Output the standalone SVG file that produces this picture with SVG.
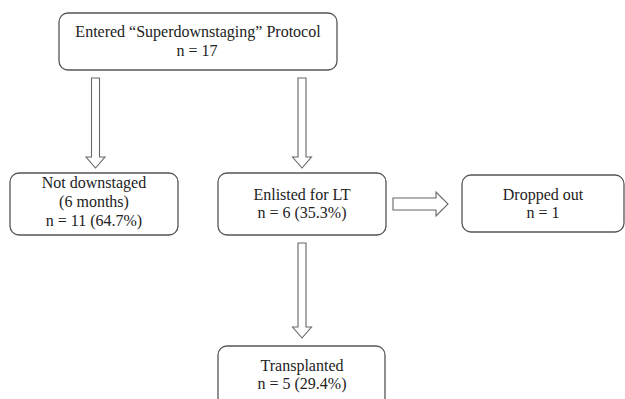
<svg xmlns="http://www.w3.org/2000/svg" width="625" height="399" viewBox="0 0 625 399">
<style>
.box{fill:#fff;stroke:#555;stroke-width:1.3}
.arr{fill:#fff;stroke:#666;stroke-width:1.1;stroke-linejoin:miter}
text{font-family:"Liberation Serif","Times New Roman",serif;font-size:16px;fill:#222;text-anchor:middle}
</style>
<rect width="625" height="399" fill="#fff"/>
<g id="connectors">
<polygon class="arr" points="91.5,78 99.5,78 99.5,157 105,157 95.5,168 86,157 91.5,157"/>
<polygon class="arr" points="298,78 306,78 306,157 311.5,157 302,168 292.5,157 298,157"/>
<polygon class="arr" points="298,243 306,243 306,327 311.5,327 302,338 292.5,327 298,327"/>
<polygon class="arr" points="393,198 436,198 436,192 448,204 436,216 436,210 393,210"/>
</g>
<g id="n_entered">
<rect class="box" x="59" y="13" width="278" height="57" rx="9"/>
<text x="198" y="37">Entered “Superdownstaging” Protocol</text>
<text x="197" y="56">n = 17</text>
</g>
<g id="n_not">
<rect class="box" x="10" y="173" width="168" height="62" rx="9"/>
<text x="94" y="188">Not downstaged</text>
<text x="94" y="206.5">(6 months)</text>
<text x="94" y="225.5">n = 11 (64.7%)</text>
</g>
<g id="n_enlisted">
<rect class="box" x="218" y="173" width="168" height="62" rx="9"/>
<text x="302" y="200">Enlisted for LT</text>
<text x="302" y="218">n = 6 (35.3%)</text>
</g>
<g id="n_dropped">
<rect class="box" x="462" y="175" width="162" height="57" rx="9"/>
<text x="543" y="200">Dropped out</text>
<text x="543" y="218">n = 1</text>
</g>
<g id="n_transplanted">
<rect class="box" x="218" y="346" width="167" height="62" rx="9"/>
<text x="302" y="371">Transplanted</text>
<text x="302" y="389">n = 5 (29.4%)</text>
</g>
</svg>
